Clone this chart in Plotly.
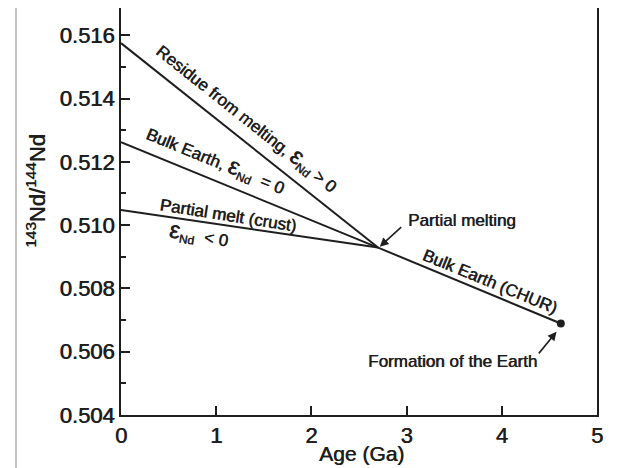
import plotly.graph_objects as go

# Data
age_residue = [0.0, 2.70]
nd_residue = [0.51575, 0.50929]
age_bulk = [0.0, 2.70, 4.62]
nd_bulk = [0.51262, 0.50929, 0.50689]
age_melt = [0.0, 2.70]
nd_melt = [0.51048, 0.50929]
earth_age = [4.62]
earth_nd = [0.50689]

x_ticks = [0, 1, 2, 3, 4, 5]
y_ticks = [0.504, 0.506, 0.508, 0.510, 0.512, 0.514, 0.516]

FONT = "Liberation Sans, Arial, sans-serif"
INK = "#1e1e1e"
HEAVY = "0.6px 0 0 #1e1e1e"
EPS = '<span style="font-size:24px">ε</span>'

fig = go.Figure()
for xs, ys in [(age_residue, nd_residue), (age_bulk, nd_bulk), (age_melt, nd_melt)]:
    fig.add_trace(go.Scatter(x=xs, y=ys, mode="lines",
                             line=dict(color=INK, width=2), showlegend=False,
                             hoverinfo="skip"))
fig.add_trace(go.Scatter(x=earth_age, y=earth_nd, mode="markers",
                         marker=dict(color=INK, size=8), showlegend=False))

ann = []
def label(x, y, text, angle=0, size=17):
    ann.append(dict(x=x, y=y, xref="x", yref="y", text=text, showarrow=False,
                    textangle=angle,
                    font=dict(family=FONT, size=size, color=INK, shadow=HEAVY),
                    xanchor="center", yanchor="middle"))

label(1.33, 0.51340, "Residue from melting, " + EPS + "<sub>Nd</sub> > 0", 38.5)
label(0.997, 0.51206, "Bulk Earth, " + EPS + "<sub>Nd</sub>  = 0", 22.3)
label(1.123, 0.51029, "Partial melt (crust)", 9)
label(0.818, 0.50969, EPS + "<sub>Nd</sub>  < 0", 9)
label(3.872, 0.50821, "Bulk Earth (CHUR)", 22.3)
label(3.578, 0.51013, "Partial melting", 0)
label(3.484, 0.50569, "Formation of the Earth", 0)

# arrows
for (hx, hy, tx, ty) in [(2.718, 0.50932, 2.959, 0.50998),
                         (4.575, 0.50663, 4.376, 0.50590)]:
    ann.append(dict(x=hx, y=hy, xref="x", yref="y", ax=tx, ay=ty,
                    axref="x", ayref="y", text="", showarrow=True,
                    arrowhead=2, arrowsize=1.1, arrowwidth=1.6, arrowcolor=INK))

# axis titles
ann.append(dict(x=-0.1786, y=0.5504, xref="paper", yref="paper",
                text="<sup>143</sup>Nd/<sup>144</sup>Nd", textangle=-90,
                showarrow=False,
                font=dict(family=FONT, size=22, color=INK, shadow=HEAVY),
                xanchor="center", yanchor="middle"))
ann.append(dict(x=0.505, y=-0.0934, xref="paper", yref="paper",
                text="Age (Ga)", showarrow=False,
                font=dict(family=FONT, size=21, color=INK, shadow=HEAVY),
                xanchor="center", yanchor="middle"))

fig.update_layout(
    width=612, height=460,
    margin=dict(l=113, r=23, t=0, b=53, autoexpand=False),
    paper_bgcolor="white", plot_bgcolor="white",
    annotations=ann,
    shapes=[dict(type="line", xref="paper", yref="paper", layer="above",
                 x0=-0.2206, x1=-0.2206, y0=-0.15, y1=1.0,
                 line=dict(color="#c4c4c4", width=2))],
)
fig.update_xaxes(range=[0, 5], tickvals=x_ticks, ticktext=[str(v) for v in x_ticks],
                 ticks="inside", ticklen=9, tickwidth=1.5, tickcolor=INK,
                 showline=True, linewidth=2, linecolor=INK, mirror=True,
                 showgrid=False, zeroline=False,
                 tickfont=dict(family=FONT, size=22, color=INK, shadow=HEAVY))
fig.update_yaxes(range=[0.504, 0.51686], tickvals=y_ticks,
                 ticktext=[f"{v:.3f}" for v in y_ticks],
                 ticks="inside", ticklen=9, tickwidth=1.5, tickcolor=INK,
                 minor=dict(dtick=0.001, tick0=0.504, ticks="inside", ticklen=5,
                            tickwidth=1.5, tickcolor=INK, showgrid=False),
                 showline=True, linewidth=2, linecolor=INK, mirror=True,
                 showgrid=False, zeroline=False,
                 tickfont=dict(family=FONT, size=22, color=INK, shadow=HEAVY))

fig.write_html("out.html")
